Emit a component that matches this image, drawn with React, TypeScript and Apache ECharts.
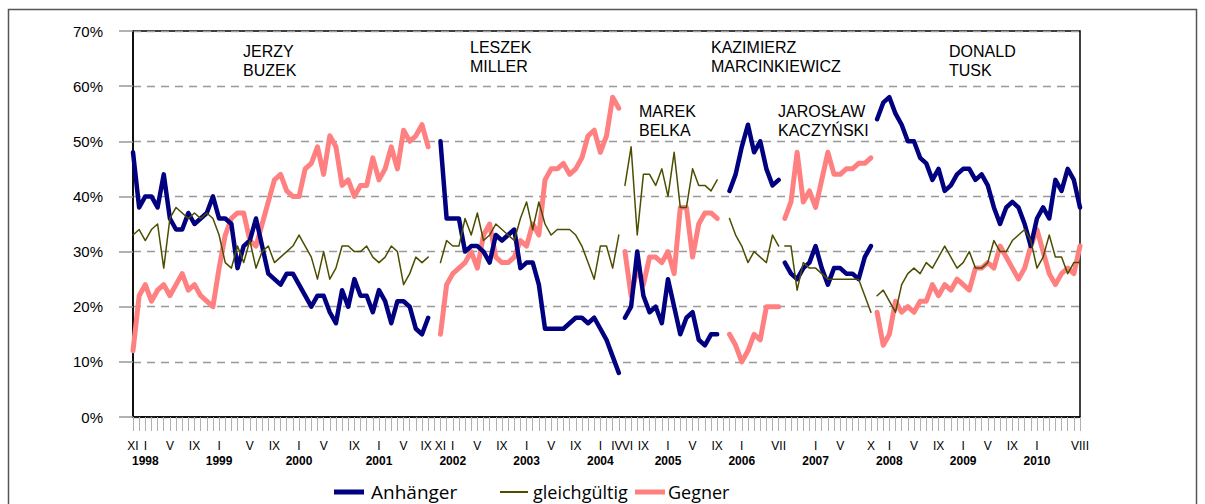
import React, { useEffect, useRef } from "react";
import * as echarts from "echarts";

// ---- axis structure (survey slots) ----
const FIRST_YEAR = 1997;
const FIRST_MONTH = 11;
const LAST_YEAR = 2010;
const LAST_MONTH = 8;
const twiceSurveyedMonths = ["1999-03", "2000-07"];
const unsurveyedMonths = ["2004-05"];

// ---- tick labels ----
const monthTicks: [string, string][] = [
  ["1997-11", "XI"], ["1998-01", "I"], ["1998-05", "V"], ["1998-09", "IX"],
  ["1999-01", "I"], ["1999-05", "V"], ["1999-09", "IX"],
  ["2000-01", "I"], ["2000-05", "V"], ["2000-09", "IX"],
  ["2001-01", "I"], ["2001-05", "V"], ["2001-09", "IX"], ["2001-11", "XI"],
  ["2002-01", "I"], ["2002-05", "V"], ["2002-09", "IX"],
  ["2003-01", "I"], ["2003-05", "V"], ["2003-09", "IX"],
  ["2004-01", "I"], ["2004-04", "IV"], ["2004-06", "VI"], ["2004-09", "IX"],
  ["2005-01", "I"], ["2005-05", "V"], ["2005-09", "IX"],
  ["2006-01", "I"], ["2006-07", "VII"],
  ["2007-01", "I"], ["2007-05", "V"], ["2007-10", "X"],
  ["2008-01", "I"], ["2008-05", "V"], ["2008-09", "IX"],
  ["2009-01", "I"], ["2009-05", "V"], ["2009-09", "IX"],
  ["2010-01", "I"], ["2010-08", "VIII"],
];
const yearTicks: [string, string][] = [
  ["1998-01", "1998"], ["1999-01", "1999"], ["2000-01", "2000"], ["2001-01", "2001"],
  ["2002-01", "2002"], ["2003-01", "2003"], ["2004-01", "2004"], ["2005-01", "2005"],
  ["2006-01", "2006"], ["2007-01", "2007"], ["2008-01", "2008"], ["2009-01", "2009"],
  ["2010-01", "2010"],
];
// labels squeezed against a neighbour: nudged left / right
const nudgeLeftTicks = ["2004-04", "2001-09"];
const nudgeRightTicks = ["2004-06"];

// ---- data (percent) ----
const buzekStart = "1997-11";
const buzekAnhaenger = [48, 38, 40, 40, 38, 44, 36, 34, 34, 37, 35, 36, 37, 40, 36, 36, 35, 27, 31, 32, 36, 31, 26, 25, 24, 26, 26, 24, 22, 20, 22, 22, 19, 17, 23, 20, 25, 22, 22, 19, 23, 21, 17, 21, 21, 20, 16, 15, 18];
const buzekGleich = [33, 34, 32, 34, 35, 27, 36, 38, 37, 36, 37, 36, 37, 36, 33, 28, 27, 31, 28, 32, 27, 30, 31, 28, 29, 30, 31, 33, 31, 29, 25, 30, 25, 27, 31, 31, 30, 30, 31, 29, 28, 29, 31, 30, 24, 26, 29, 28, 29];
const buzekGegner = [12, 22, 24, 21, 23, 24, 22, 24, 26, 23, 24, 22, 21, 20, 27, 33, 36, 37, 37, 32, 31, 35, 39, 43, 44, 41, 40, 40, 45, 46, 49, 44, 51, 49, 42, 43, 40, 42, 42, 47, 43, 45, 49, 45, 52, 50, 51, 53, 49];

const millerStart = "2001-11";
const millerAnhaenger = [50, 36, 36, 36, 30, 31, 31, 30, 28, 33, 32, 33, 34, 27, 28, 28, 24, 16, 16, 16, 16, 17, 18, 18, 17, 18, 16, 14, 11, 8];
const millerGleich = [28, 32, 31, 31, 36, 33, 37, 32, 33, 35, 34, 33, 32, 36, 39, 34, 39, 35, 33, 34, 34, 34, 33, 31, 28, 25, 31, 31, 27, 33];
const millerGegner = [15, 24, 26, 27, 28, 30, 27, 33, 35, 29, 28, 28, 29, 32, 31, 35, 33, 43, 45, 45, 46, 44, 45, 47, 51, 52, 48, 51, 58, 56];

const belkaStart = "2004-06";
const belkaAnhaenger = [18, 20, 30, 22, 19, 20, 17, 25, 20, 15, 18, 19, 14, 13, 15, 15];
const belkaGleich = [42, 49, 33, 44, 44, 42, 45, 40, 48, 38, 38, 45, 42, 42, 41, 43];
const belkaGegner = [30, 22, 27, 24, 29, 29, 28, 30, 26, 38, 38, 29, 35, 37, 37, 36];

const marcinkiewiczStart = "2005-11";
const marcinkiewiczAnhaenger = [41, 44, 49, 53, 48, 50, 45, 42, 43];
const marcinkiewiczGleich = [36, 33, 31, 28, 30, 29, 28, 33, 31];
const marcinkiewiczGegner = [15, 13, 10, 12, 15, 14, 20, 20, 20];

const kaczynskiStart = "2006-08";
const kaczynskiAnhaenger = [28, 26, 25, 27, 28, 31, 27, 24, 27, 27, 26, 26, 25, 29, 31];
const kaczynskiGleich = [31, 31, 23, 28, 27, 27, 26, 25, 25, 25, 25, 25, 25, 22, 19];
const kaczynskiGegner = [36, 39, 48, 39, 41, 38, 43, 48, 44, 44, 45, 45, 46, 46, 47];

const tuskStart = "2007-11";
const tuskAnhaenger = [54, 57, 58, 55, 53, 50, 50, 47, 46, 43, 45, 41, 42, 44, 45, 45, 43, 44, 42, 38, 35, 38, 39, 38, 35, 31, 36, 38, 36, 43, 41, 45, 43, 38];
const tuskGleich = [22, 23, 21, 19, 24, 26, 27, 26, 28, 27, 29, 31, 29, 27, 28, 30, 27, 27, 28, 32, 30, 30, 32, 33, 34, 32, 27, 29, 33, 29, 29, 26, 28, 28];
const tuskGegner = [19, 13, 15, 21, 19, 20, 19, 21, 21, 24, 22, 24, 23, 25, 24, 23, 27, 27, 28, 27, 31, 29, 27, 25, 27, 31, 34, 30, 26, 24, 26, 27, 26, 31];

const governmentNames = [
  "JERZY\nBUZEK",
  "LESZEK\nMILLER",
  "MAREK\nBELKA",
  "KAZIMIERZ\nMARCINKIEWICZ",
  "JAROSŁAW\nKACZYŃSKI",
  "DONALD\nTUSK",
];

const seriesNames = ["Anhänger", "gleichgültig", "Gegner"];

// ---- build helpers ----
function monthKey(y: number, m: number) {
  return `${y}-${String(m).padStart(2, "0")}`;
}
const categories: string[] = [];
{
  let y = FIRST_YEAR;
  let m = FIRST_MONTH;
  while (y * 12 + m <= LAST_YEAR * 12 + LAST_MONTH) {
    const k = monthKey(y, m);
    if (!unsurveyedMonths.includes(k)) {
      categories.push(k);
      if (twiceSurveyedMonths.includes(k)) categories.push(k + "/2");
    }
    m++;
    if (m > 12) {
      m = 1;
      y++;
    }
  }
}
const monthMap = new Map(monthTicks);
const yearMap = new Map(yearTicks);

const segments = [
  { start: buzekStart, a: buzekAnhaenger, g: buzekGleich, o: buzekGegner },
  { start: millerStart, a: millerAnhaenger, g: millerGleich, o: millerGegner },
  { start: belkaStart, a: belkaAnhaenger, g: belkaGleich, o: belkaGegner },
  { start: marcinkiewiczStart, a: marcinkiewiczAnhaenger, g: marcinkiewiczGleich, o: marcinkiewiczGegner },
  { start: kaczynskiStart, a: kaczynskiAnhaenger, g: kaczynskiGleich, o: kaczynskiGegner },
  { start: tuskStart, a: tuskAnhaenger, g: tuskGleich, o: tuskGegner },
];

const NAVY = "#000080";
const OLIVE = "#4d4d00";
const PINK = "#ff8080";
const FONT = "Liberation Sans";

function toData(start: string, vals: number[]) {
  const s = categories.indexOf(start);
  return vals.map((v, i) => [s + i, v]);
}

export default function App() {
  const ref = useRef<HTMLDivElement>(null);
  useEffect(() => {
    if (!ref.current) return;
    const chart = echarts.init(ref.current, undefined, { renderer: "svg" });

    const series: any[] = [];
    const mk = (name: string, color: string, width: number, data: any[], z: number) => ({
      type: "line",
      name,
      data,
      xAxisIndex: 0,
      symbol: "none",
      silent: true,
      z,
      itemStyle: { color },
      lineStyle: { color, width, cap: "round", join: "round" },
    });
    segments.forEach((s) => series.push(mk(seriesNames[2], PINK, 5, toData(s.start, s.o), 2)));
    segments.forEach((s) => series.push(mk(seriesNames[0], NAVY, 4.5, toData(s.start, s.a), 3)));
    segments.forEach((s) => series.push(mk(seriesNames[1], OLIVE, 1.5, toData(s.start, s.g), 4)));

    const nameText = (text: string, x: number, y: number) => ({
      type: "text",
      x,
      y,
      silent: true,
      z: 10,
      style: { text, fontSize: 16, fontFamily: FONT, lineHeight: 19, fill: "#000" },
    });

    const mStyle = { fontSize: 12, lineHeight: 15, color: "#000", fontFamily: FONT };
    const legendY = 492;
    chart.setOption({
      animation: false,
      grid: {
        left: 133,
        right: 125,
        top: 31,
        bottom: 87,
        show: true,
        borderColor: "#000",
        borderWidth: 1.5,
      },
      xAxis: [
        {
          type: "category",
          data: categories,
          boundaryGap: false,
          position: "bottom",
          axisLine: { show: true, lineStyle: { color: "#000", width: 1.5 } },
          axisTick: { show: true, interval: 0, length: 14, lineStyle: { color: "#b0b0b0", width: 1 } },
          axisLabel: {
            interval: (i: number) => monthMap.has(categories[i]),
            showMinLabel: true,
            showMaxLabel: true,
            hideOverlap: false,
            formatter: (v: string) => {
              const m = monthMap.get(v) || "";
              const tag = nudgeLeftTicks.includes(v) ? "ml" : nudgeRightTicks.includes(v) ? "mr" : "m";
              return `{${tag}|${m}}`;
            },
            margin: 21,
            rich: {
              m: mStyle,
              ml: { ...mStyle, padding: [0, 4, 0, 0] },
              mr: { ...mStyle, padding: [0, 0, 0, 5] },
            },
          },
          splitLine: { show: false },
        },
        {
          type: "category",
          data: categories,
          boundaryGap: false,
          position: "bottom",
          gridIndex: 0,
          axisLine: { show: false },
          axisTick: { show: false },
          axisLabel: {
            interval: (i: number) => yearMap.has(categories[i]),
            hideOverlap: false,
            formatter: (v: string) => yearMap.get(v) || "",
            margin: 36,
            fontSize: 12,
            lineHeight: 15,
            fontWeight: "bold",
            color: "#000",
            fontFamily: FONT,
          },
          splitLine: { show: false },
        },
      ],
      yAxis: {
        type: "value",
        min: 0,
        max: 70,
        interval: 10,
        axisLine: { show: true, lineStyle: { color: "#000", width: 1.5 } },
        axisTick: { show: true, length: 14, lineStyle: { color: "#999", width: 1.5 } },
        axisLabel: { formatter: "{value}%", fontSize: 15, color: "#000", margin: 30, fontFamily: FONT },
        splitLine: { show: true, lineStyle: { color: "#999", type: [8, 6], width: 1.3 } },
      },
      series,
      graphic: [
        {
          type: "rect",
          silent: true,
          shape: { x: 8.5, y: 9.5, width: 1188, height: 600 },
          style: { fill: "none", stroke: "#555", lineWidth: 1.5 },
        },
        nameText(governmentNames[0], 243, 42),
        nameText(governmentNames[1], 470, 38),
        nameText(governmentNames[2], 639, 102),
        nameText(governmentNames[3], 711, 38),
        nameText(governmentNames[4], 778, 102),
        nameText(governmentNames[5], 949, 42),
        { type: "line", silent: true, shape: { x1: 334, y1: legendY, x2: 364, y2: legendY }, style: { stroke: NAVY, lineWidth: 5 } },
        { type: "text", silent: true, x: 371, y: legendY, style: { text: seriesNames[0], fontSize: 19, fontFamily: "Open Sans", fill: "#000", verticalAlign: "middle" } },
        { type: "line", silent: true, shape: { x1: 500, y1: legendY, x2: 528, y2: legendY }, style: { stroke: OLIVE, lineWidth: 2 } },
        { type: "text", silent: true, x: 533, y: legendY, style: { text: seriesNames[1], fontSize: 18, fontFamily: "Open Sans", fill: "#000", verticalAlign: "middle" } },
        { type: "line", silent: true, shape: { x1: 635, y1: legendY, x2: 665, y2: legendY }, style: { stroke: PINK, lineWidth: 5 } },
        { type: "text", silent: true, x: 668, y: legendY, style: { text: seriesNames[2], fontSize: 18, fontFamily: "Open Sans", fill: "#000", verticalAlign: "middle" } },
      ],
    });
    return () => chart.dispose();
  }, []);
  return <div ref={ref} style={{ position: "absolute", left: 0, top: 0, width: 1205, height: 504 }} />;
}
